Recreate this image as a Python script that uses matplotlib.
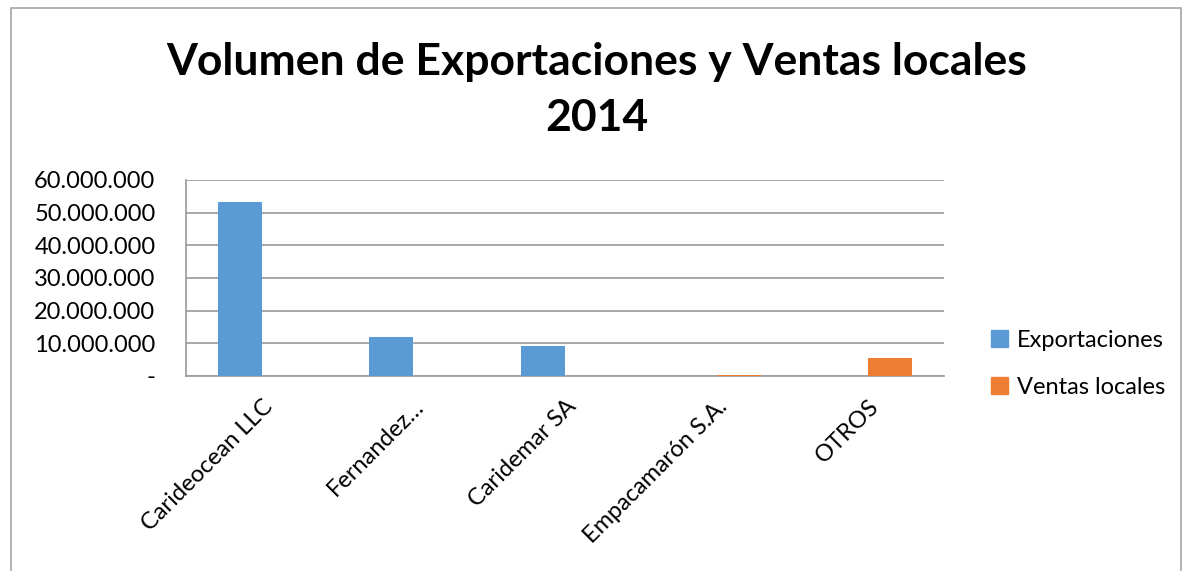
import matplotlib.pyplot as plt
import matplotlib.ticker as mticker
from matplotlib.patches import Rectangle, Patch
import numpy as np

plt.rcParams['font.family'] = ['Lato', 'DejaVu Sans']

categories = ['Carideocean LLC', 'Fernandez…', 'Caridemar SA', 'Empacamarón S.A.', 'OTROS']
exportaciones = [53400000, 12000000, 9200000, 0, 0]
ventas_locales = [0, 0, 0, 300000, 5400000]
series_names = ['Exportaciones', 'Ventas locales']
colors = {'Exportaciones': '#5B9BD5', 'Ventas locales': '#ED7D31'}


def fmt_miles(v, pos):
    if v == 0:
        return '-'
    return f'{int(v):,}'.replace(',', '.')


def volumen_fig():
    fig = plt.figure(figsize=(11.93, 5.71), dpi=100)
    ax = fig.add_axes([186 / 1193, 1 - 376 / 571, (944 - 186) / 1193, (376 - 180) / 571])

    # marco del gráfico
    fig.patches.append(Rectangle((11 / 1193, -0.05), (1181 - 11) / 1193, 1 - 8 / 571 + 0.05,
                                 transform=fig.transFigure, fill=False,
                                 edgecolor='#A6A6A6', linewidth=1.2))

    x = np.arange(len(categories))
    w = 0.29
    ax.bar(x - w / 2, exportaciones, w, color=colors['Exportaciones'], zorder=3)
    ax.bar(x + w / 2, ventas_locales, w, color=colors['Ventas locales'], zorder=3)

    ax.set_xlim(-0.5, len(categories) - 0.5)
    ax.set_ylim(0, 60000000)
    ax.yaxis.set_major_locator(mticker.MultipleLocator(10000000))
    ax.yaxis.set_major_formatter(mticker.FuncFormatter(fmt_miles))
    ax.grid(axis='y', color='#A0A0A0', linewidth=1.3, zorder=0)

    for s in ['top', 'right']:
        ax.spines[s].set_visible(False)
    for s in ['left', 'bottom']:
        ax.spines[s].set_color('#A0A0A0')
        ax.spines[s].set_linewidth(1.3)

    ax.tick_params(axis='y', length=0, pad=22, labelsize=17)
    ax.tick_params(axis='x', length=0, pad=14, labelsize=17)
    ax.set_xticks(x)
    ax.set_xticklabels(categories, rotation=45, ha='right', rotation_mode='anchor')

    fig.text(0.5, 1 - 90 / 571, 'Volumen de Exportaciones y Ventas locales\n2014',
             ha='center', va='center', fontsize=32, fontweight='bold', linespacing=1.5)

    handles = [Patch(color=colors[n]) for n in series_names]
    fig.legend(handles, series_names, loc='center left', bbox_to_anchor=(970 / 1193, 1 - 364 / 571),
               frameon=False, fontsize=17, handlelength=0.7, handleheight=0.7,
               handletextpad=0.4, labelspacing=1.1)

    plt.savefig('out.png', dpi=100)


if __name__ == '__main__':
    volumen_fig()
